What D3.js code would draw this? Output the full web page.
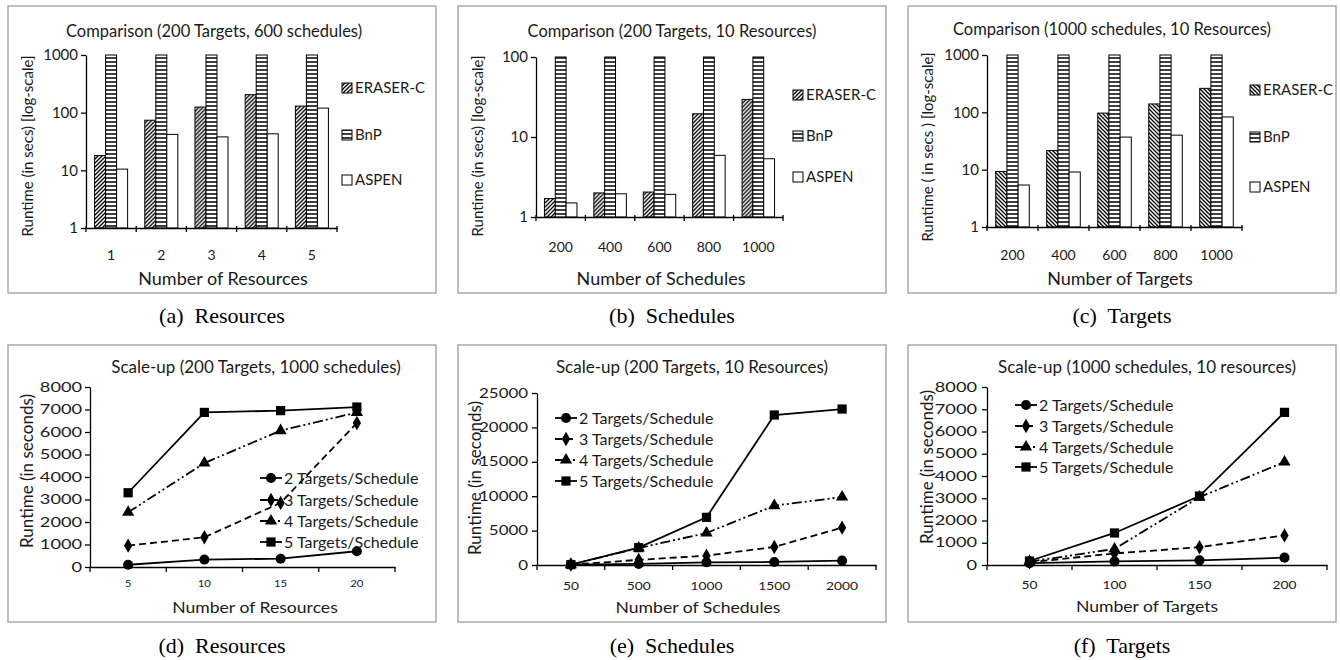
<!DOCTYPE html>
<meta charset="utf-8">
<style>
body { margin: 0; background: #fff; }
text { font-family: Lato, "Open Sans", sans-serif; fill: #1a1a1a; }
.caption { font-family: "Liberation Serif", "DejaVu Serif", serif; font-size: 22px; fill: #000; white-space: pre; }
.frame { fill: none; stroke: #a9a9a9; stroke-width: 1.5px; }
.axis path, .axis line { stroke: #000; stroke-width: 1.3px; }
.axis text { fill: #1a1a1a; }
</style>
<body>
<script src="https://d3js.org/d3.v7.min.js"></script>
<script>

// ---- data: comparison (log scale) ----
var barSeries = ["ERASER-C", "BnP", "ASPEN"];

var resCats   = ["1", "2", "3", "4", "5"];
var resEraser = [18, 74, 125, 205, 130];
var resBnP    = [1000, 1000, 1000, 1000, 1000];
var resAspen  = [10.5, 42, 38, 43, 120];

var schCats   = ["200", "400", "600", "800", "1000"];
var schEraser = [1.7, 2.0, 2.05, 19.5, 29.5];
var schBnP    = [100, 100, 100, 100, 100];
var schAspen  = [1.5, 1.95, 1.92, 5.9, 5.35];

var tgtCats   = ["200", "400", "600", "800", "1000"];
var tgtEraser = [9.3, 21.5, 97, 140, 262];
var tgtBnP    = [1000, 1000, 1000, 1000, 1000];
var tgtAspen  = [5.4, 9.1, 37, 40, 83];

// ---- data: scale-up (linear) ----
var lineSeries = ["2 Targets/Schedule", "3 Targets/Schedule", "4 Targets/Schedule", "5 Targets/Schedule"];

var resX = ["5", "10", "15", "20"];
var res2 = [100, 330, 370, 700];
var res3 = [950, 1320, 2850, 6400];
var res4 = [2430, 4620, 6060, 6870];
var res5 = [3300, 6870, 6950, 7110];

var schX = ["50", "500", "1000", "1500", "2000"];
var sch2 = [50, 150, 390, 440, 630];
var sch3 = [50, 750, 1360, 2620, 5430];
var sch4 = [50, 2470, 4650, 8620, 9880];
var sch5 = [60, 2520, 6930, 21800, 22670];

var tgtX = ["50", "100", "150", "200"];
var tgt2 = [80, 160, 210, 330];
var tgt3 = [120, 520, 800, 1330];
var tgt4 = [150, 720, 3050, 4630];
var tgt5 = [180, 1440, 3100, 6860];

var svg = d3.select("body").append("svg")
    .attr("width", 1340)
    .attr("height", 660);

// fill patterns
var defs = svg.append("defs");
function hatch(id, d, w) {
  var p = defs.append("pattern").attr("id", id)
      .attr("patternUnits", "userSpaceOnUse")
      .attr("width", 4).attr("height", 4);
  p.append("rect").attr("width", 4).attr("height", 4).attr("fill", "#fff");
  p.append("path").attr("d", d).attr("stroke", "#000").attr("stroke-width", w);
}
hatch("fwd", "M-1,1 l2,-2 M0,4 l4,-4 M3,5 l2,-2", 1.3);
hatch("back", "M-1,3 l2,2 M0,0 l4,4 M3,-1 l2,2", 1.3);
hatch("horiz", "M0,2 H4", 1.5);

// stretch text horizontally around its anchor
function stretch(sel, k) {
  sel.each(function() {
    var t = d3.select(this);
    var x = +t.attr("x") || 0;
    t.attr("x", x / k).attr("transform", "scale(" + k + ",1)");
  });
}

function label(g, x, y, txt, size, anchor) {
  return g.append("text")
      .attr("x", x).attr("y", y)
      .attr("text-anchor", anchor || "middle")
      .style("font-size", size + "px")
      .text(txt);
}

function yTitle(g, x, y, txt, size) {
  g.append("text")
      .attr("transform", "translate(" + x + "," + y + ") rotate(-90)")
      .attr("text-anchor", "middle")
      .style("font-size", size + "px")
      .text(txt);
}

// ---- bar panel ----
function barPanel(p) {
  var g = svg.append("g");
  g.append("rect").attr("class", "frame")
      .attr("x", p.frame[0]).attr("y", p.frame[1])
      .attr("width", p.frame[2]).attr("height", p.frame[3]);

  var x = d3.scaleBand().domain(p.cats).range([p.left, p.right]);
  var xs = d3.scaleBand().domain(barSeries).range([0, x.bandwidth()]).paddingOuter(0.78);
  var y = d3.scaleLog().domain([1, p.max]).range([p.bottom, p.top]);
  var fills = [p.hatch, "url(#horiz)", "#fff"];

  var rows = p.cats.map(function(c, i) {
    return { cat: c, vals: [p.eraser[i], p.bnp[i], p.aspen[i]] };
  });

  g.selectAll(".grp").data(rows).join("g")
      .attr("transform", function(d) { return "translate(" + x(d.cat) + ",0)"; })
    .selectAll("rect")
    .data(function(d) { return d.vals.map(function(v, j) { return { s: barSeries[j], v: v, j: j }; }); })
    .join("rect")
      .attr("x", function(d) { return xs(d.s); })
      .attr("width", xs.bandwidth())
      .attr("y", function(d) { return y(d.v); })
      .attr("height", function(d) { return p.bottom - y(d.v); })
      .attr("fill", function(d) { return fills[d.j]; })
      .attr("stroke", "#000")
      .attr("stroke-width", 1);

  // y axis
  var ya = g.append("g").attr("class", "axis")
      .attr("transform", "translate(" + p.left + ",0)")
      .call(d3.axisLeft(y).tickValues(p.yticks).tickFormat(d3.format("d"))
            .tickSize(5).tickSizeOuter(0).tickPadding(3));
  ya.selectAll("text").style("font-size", "15px");

  // x axis
  var xa = g.append("g").attr("class", "axis")
      .attr("transform", "translate(0," + p.bottom + ")")
      .call(d3.axisBottom(x).tickSize(0).tickSizeOuter(0).tickPadding(p.tickPad));
  xa.selectAll("text").style("font-size", "14px");
  g.selectAll(".bt").data(p.cats.map(function(c) { return x(c); }).concat([x.range()[1]]))
    .join("line")
      .attr("x1", function(d) { return d; }).attr("x2", function(d) { return d; })
      .attr("y1", p.bottom - 2).attr("y2", p.bottom + 4)
      .attr("stroke", "#000").attr("stroke-width", 1.3);

  label(g, p.titleX, p.titleY, p.title, 16.5);
  label(g, p.xTitleX, p.xTitleY, p.xTitle, 18);
  yTitle(g, p.yTitleX, p.yTitleY, p.yTitle, 15);

  // legend
  barSeries.forEach(function(s, j) {
    var ly = p.legY[j];
    g.append("rect").attr("x", p.legX).attr("y", ly - 5)
        .attr("width", 10).attr("height", 10)
        .attr("fill", fills[j]).attr("stroke", "#000").attr("stroke-width", 1);
    label(g, p.legX + 13, ly, s, 15, "start").attr("dy", "0.35em");
  });

  label(g, p.capX, p.capY, p.caption, 22).attr("class", "caption");
}

// ---- line panel ----
var markers = [d3.symbolCircle, d3.symbolDiamond, d3.symbolTriangle, d3.symbolSquare];
var markerSize = [80, 60, 65, 85];
var dashes = [null, "7,4", "10,3,2,3,2,3", null];

function linePanel(p) {
  var g = svg.append("g");
  g.append("rect").attr("class", "frame")
      .attr("x", p.frame[0]).attr("y", p.frame[1])
      .attr("width", p.frame[2]).attr("height", p.frame[3]);

  var x = d3.scaleBand().domain(p.cats).range([p.left, p.right]);
  var y = d3.scaleLinear().domain([0, p.max]).range([p.bottom, p.top]);

  var ya = g.append("g").attr("class", "axis")
      .attr("transform", "translate(" + p.left + ",0)")
      .call(d3.axisLeft(y).ticks(p.max / p.step).tickFormat(d3.format("d"))
            .tickSize(5).tickSizeOuter(0).tickPadding(p.yPad));
  ya.selectAll("text").style("font-size", "13px");
  stretch(ya.selectAll("text"), p.yStretch);

  var xa = g.append("g").attr("class", "axis")
      .attr("transform", "translate(0," + p.bottom + ")")
      .call(d3.axisBottom(x).tickSize(0).tickSizeOuter(0).tickPadding(p.tickPad));
  xa.selectAll("text").style("font-size", p.xFont + "px");
  stretch(xa.selectAll("text"), 1.15);
  g.selectAll(".bt").data(p.cats.map(function(c) { return x(c); }).concat([x.range()[1]]))
    .join("line")
      .attr("x1", function(d) { return d; }).attr("x2", function(d) { return d; })
      .attr("y1", p.bottom).attr("y2", p.bottom + 5)
      .attr("stroke", "#000").attr("stroke-width", 1.3);

  var line = d3.line()
      .x(function(d, i) { return x(p.cats[i]) + x.bandwidth() / 2; })
      .y(function(d) { return y(d); });

  p.series.forEach(function(vals, k) {
    g.append("path").datum(vals)
        .attr("d", line)
        .attr("fill", "none")
        .attr("stroke", "#000")
        .attr("stroke-width", 1.8)
        .attr("stroke-dasharray", dashes[k]);
    g.selectAll(".m" + k).data(vals).join("path")
        .attr("transform", function(d, i) {
          return "translate(" + (x(p.cats[i]) + x.bandwidth() / 2) + "," + y(d) + ")";
        })
        .attr("d", d3.symbol().type(markers[k]).size(markerSize[k]))
        .attr("fill", "#000");
  });

  // legend
  lineSeries.forEach(function(s, k) {
    var ly = p.legY[k];
    g.append("line").attr("x1", p.legX).attr("x2", p.legX + 22)
        .attr("y1", ly).attr("y2", ly)
        .attr("stroke", "#000").attr("stroke-width", 1.8)
        .attr("stroke-dasharray", dashes[k]);
    g.append("path").attr("transform", "translate(" + (p.legX + 11) + "," + ly + ")")
        .attr("d", d3.symbol().type(markers[k]).size(markerSize[k]))
        .attr("fill", "#000");
    label(g, p.legX + 24, ly, s, 16, "start").attr("dy", "0.35em");
  });

  label(g, p.titleX, p.titleY, p.title, 17);
  stretch(label(g, p.xTitleX, p.xTitleY, p.xTitle, 16), 1.1);
  yTitle(g, p.yTitleX, p.yTitleY, p.yTitle, 17);

  label(g, p.capX, p.capY, p.caption, 22).attr("class", "caption");
}

barPanel({
  frame: [8, 6, 428, 287], left: 86, right: 337, top: 55, bottom: 228,
  max: 1000, yticks: [1, 10, 100, 1000], tickPad: 22,
  cats: resCats, eraser: resEraser, bnp: resBnP, aspen: resAspen, hatch: "url(#fwd)",
  title: "Comparison (200 Targets, 600 schedules)", titleX: 214, titleY: 37,
  xTitle: "Number of Resources", xTitleX: 223, xTitleY: 285,
  yTitle: "Runtime (in secs) [log-scale]", yTitleX: 33, yTitleY: 146,
  legX: 342, legY: [88, 135, 180],
  caption: "(a)  Resources", capX: 222, capY: 323
});

barPanel({
  frame: [458, 6, 428, 287], left: 536, right: 783, top: 57, bottom: 217,
  max: 100, yticks: [1, 10, 100], tickPad: 25,
  cats: schCats, eraser: schEraser, bnp: schBnP, aspen: schAspen, hatch: "url(#fwd)",
  title: "Comparison (200 Targets, 10 Resources)", titleX: 672, titleY: 37,
  xTitle: "Number of Schedules", xTitleX: 661, xTitleY: 285,
  yTitle: "Runtime (in secs) [log-scale]", yTitleX: 483, yTitleY: 146,
  legX: 793, legY: [95, 136, 177],
  caption: "(b)  Schedules", capX: 672, capY: 323
});

barPanel({
  frame: [908, 6, 428, 287], left: 987, right: 1242, top: 55, bottom: 227,
  max: 1000, yticks: [1, 10, 100, 1000], tickPad: 23,
  cats: tgtCats, eraser: tgtEraser, bnp: tgtBnP, aspen: tgtAspen, hatch: "url(#back)",
  title: "Comparison (1000 schedules, 10 Resources)", titleX: 1112, titleY: 35,
  xTitle: "Number of Targets", xTitleX: 1120, xTitleY: 285,
  yTitle: "Runtime ( in secs ) [log-scale]", yTitleX: 933, yTitleY: 147,
  legX: 1250, legY: [90, 137, 187],
  caption: "(c)  Targets", capX: 1122, capY: 323
});

linePanel({
  frame: [8, 345, 428, 277], left: 90, right: 395, top: 387, bottom: 567,
  max: 8000, step: 1000, yPad: 3, yStretch: 1.4, tickPad: 13, xFont: 10,
  cats: resX, series: [res2, res3, res4, res5],
  title: "Scale-up (200 Targets, 1000 schedules)", titleX: 256, titleY: 373,
  xTitle: "Number of Resources", xTitleX: 255, xTitleY: 613,
  yTitle: "Runtime (in seconds)", yTitleX: 33, yTitleY: 471,
  legX: 260, legY: [478, 500, 521, 542],
  caption: "(d)  Resources", capX: 222, capY: 653
});

linePanel({
  frame: [458, 345, 428, 277], left: 537, right: 876, top: 393, bottom: 565,
  max: 25000, step: 5000, yPad: 4, yStretch: 1.3, tickPad: 16, xFont: 12,
  cats: schX, series: [sch2, sch3, sch4, sch5],
  title: "Scale-up (200 Targets, 10 Resources)", titleX: 692, titleY: 373,
  xTitle: "Number of Schedules", xTitleX: 698, xTitleY: 613,
  yTitle: "Runtime (in seconds)", yTitleX: 481, yTitleY: 478,
  legX: 555, legY: [418, 439, 460, 481],
  caption: "(e)  Schedules", capX: 672, capY: 653
});

linePanel({
  frame: [908, 345, 428, 277], left: 987, right: 1327, top: 387, bottom: 565,
  max: 8000, step: 1000, yPad: 5, yStretch: 1.4, tickPad: 15, xFont: 12,
  cats: tgtX, series: [tgt2, tgt3, tgt4, tgt5],
  title: "Scale-up (1000 schedules, 10 resources)", titleX: 1147, titleY: 373,
  xTitle: "Number of Targets", xTitleX: 1147, xTitleY: 612,
  yTitle: "Runtime (in seconds)", yTitleX: 933, yTitleY: 467,
  legX: 1015, legY: [405, 426, 447, 467],
  caption: "(f)  Targets", capX: 1122, capY: 653
});

</script>
</body>
